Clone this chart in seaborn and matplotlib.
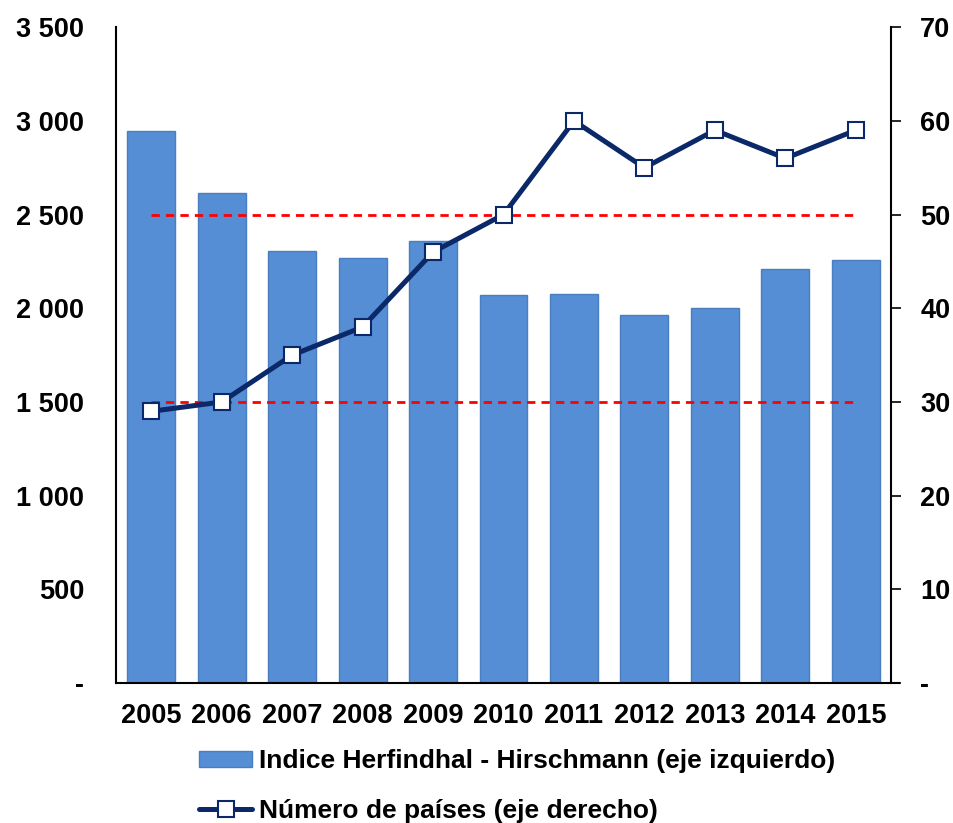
import matplotlib
matplotlib.use("Agg")
import matplotlib.pyplot as plt
import numpy as np
import seaborn as sns
from matplotlib.lines import Line2D
from matplotlib.patches import Patch
from matplotlib.ticker import FuncFormatter, MultipleLocator

YEARS = ["2005", "2006", "2007", "2008", "2009", "2010",
         "2011", "2012", "2013", "2014", "2015"]
HHI = [2945, 2615, 2305, 2268, 2359, 2070, 2076, 1964, 2001, 2209, 2257]
COUNTRIES = [29, 30, 35, 38, 46, 50, 60, 55, 59, 56, 59]
REF_LEVELS = [30, 50]

BAR_LABEL = "Indice Herfindhal - Hirschmann (eje izquierdo)"
LINE_LABEL = "Número de países (eje derecho)"

BAR_COLOR = "#558ED5"
LINE_COLOR = "#0B2868"
FS = 19.5


def space_thousands(v, _pos):
    if abs(v) < 1e-9:
        return "-"
    return f"{int(round(v)):,}".replace(",", " ")


def main() -> None:
    sns.set_theme(style="white")
    plt.rcParams["font.family"] = ["Liberation Sans", "DejaVu Sans"]
    plt.rcParams["font.weight"] = "bold"
    plt.rcParams["font.size"] = FS
    plt.rcParams["text.color"] = "black"
    plt.rcParams["xtick.color"] = "black"
    plt.rcParams["ytick.color"] = "black"
    plt.rcParams["xtick.labelcolor"] = "black"
    plt.rcParams["ytick.labelcolor"] = "black"

    fig = plt.figure(figsize=(9.54, 8.23), dpi=100)
    ax = fig.add_axes([0.1216, 0.170, 0.8124, 0.797])

    sns.barplot(x=YEARS, y=HHI, ax=ax, color=BAR_COLOR, width=0.68,
                edgecolor="#4A7EC0", linewidth=1, saturation=1)
    ax.set_ylim(0, 3500)
    ax.set_xlim(-0.5, 10.5)
    ax.yaxis.set_major_locator(MultipleLocator(500))
    ax.yaxis.set_major_formatter(FuncFormatter(space_thousands))
    ax.tick_params(axis="y", length=0, pad=23, labelsize=FS)
    ax.tick_params(axis="x", length=0, pad=14, labelsize=FS)
    for lab in ax.get_xticklabels() + ax.get_yticklabels():
        lab.set_fontweight("bold")
        lab.set_color("black")
    ax.set_xlabel("")
    ax.set_ylabel("")

    ax2 = ax.twinx()
    x_pos = np.arange(len(YEARS))
    ax2.hlines(REF_LEVELS, x_pos[0], x_pos[-1], colors="#FF0000",
               linestyles=(0, (3, 2.2)), linewidth=2, zorder=2)
    sns.lineplot(x=x_pos, y=COUNTRIES, ax=ax2, color=LINE_COLOR,
                 linewidth=3.6, marker="s", markersize=11,
                 markerfacecolor="white", markeredgecolor=LINE_COLOR,
                 markeredgewidth=1.5, zorder=3)
    ax2.set_ylim(0, 70)
    ax2.yaxis.set_major_locator(MultipleLocator(10))
    ax2.yaxis.set_major_formatter(FuncFormatter(space_thousands))
    ax2.tick_params(axis="y", length=7, width=1.2, color="black",
                    direction="out", pad=14, labelsize=FS, right=True)
    for lab in ax2.get_yticklabels():
        lab.set_fontweight("bold")
        lab.set_color("black")
    ax2.set_xlim(-0.5, 10.5)

    for a in (ax, ax2):
        a.spines["top"].set_visible(False)
        for s in ("left", "right", "bottom"):
            a.spines[s].set_color("black")
            a.spines[s].set_linewidth(1.5)
    ax2.spines["left"].set_visible(False)
    ax2.spines["bottom"].set_visible(False)
    ax.spines["right"].set_visible(False)
    ax.spines["bottom"].set_bounds(-0.5, 10.62)
    ax.spines["bottom"].set_clip_on(False)

    handles = [
        Patch(facecolor=BAR_COLOR, edgecolor="#4A7EC0", label=BAR_LABEL),
        Line2D([0], [0], color=LINE_COLOR, linewidth=3.6, marker="s",
               markersize=11, markerfacecolor="white",
               markeredgecolor=LINE_COLOR, markeredgewidth=1.5,
               label=LINE_LABEL),
    ]
    fig.legend(handles=handles, loc="upper left",
               bbox_to_anchor=(0.209, 0.0895), frameon=False,
               prop={"weight": "bold", "size": 19}, handlelength=2.0,
               handleheight=0.6, handletextpad=0.25, labelspacing=0.98,
               borderpad=0, borderaxespad=0, labelcolor="black")

    fig.savefig("out.png", dpi=100)
    plt.close(fig)


if __name__ == "__main__":
    main()
